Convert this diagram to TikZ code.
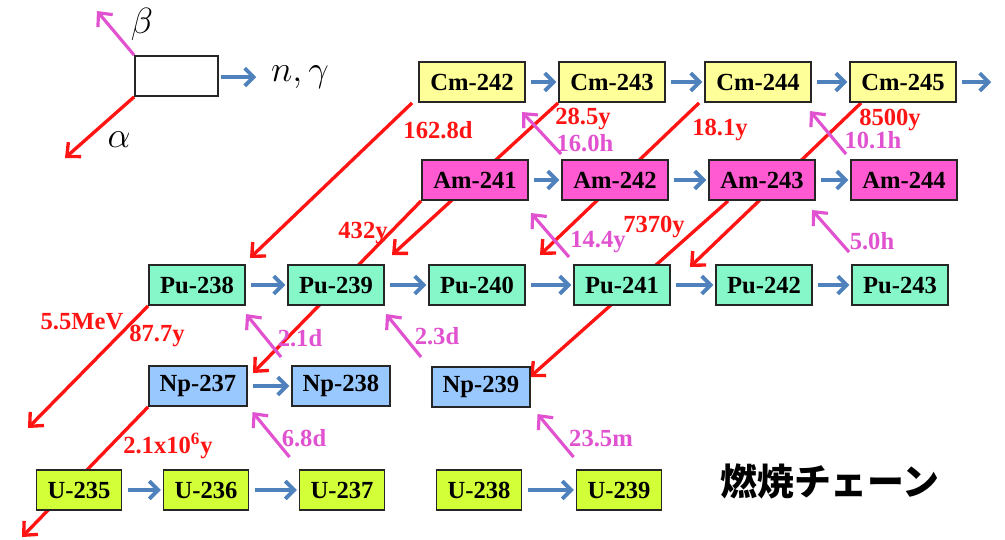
\documentclass[tikz,border=0pt]{standalone}
\usepackage{fontspec}
\setmainfont{Liberation Serif}
\newfontfamily\jpfont{Noto Sans CJK JP}
\usepackage{tikz}
\usetikzlibrary{arrows.meta,backgrounds}
\definecolor{alphared}{HTML}{FF1414}
\definecolor{betapink}{HTML}{E052CF}
\definecolor{ngblue}{HTML}{4F81BD}
\definecolor{cmfill}{HTML}{FFFF99}
\definecolor{amfill}{HTML}{FF5AD2}
\definecolor{pufill}{HTML}{86F7C8}
\definecolor{npfill}{HTML}{99C8FF}
\definecolor{ufill}{HTML}{D2FF38}
\tikzset{
  nuc/.style={draw=black!85,line width=1.1pt,inner sep=0pt,minimum height=0.8cm,
    font=\fontsize{14}{14}\selectfont\bfseries},
  capt/.style={ngblue,line width=2.2pt,shorten <=3pt,shorten >=1pt,
    -{Straight Barb[length=5pt,width=10pt]}},
  adecay/.style={alphared,line width=1.9pt,-{Straight Barb[length=6pt,width=11pt]}},
  aline/.style={alphared,line width=1.9pt},
  bdecay/.style={betapink,line width=1.8pt,-{Straight Barb[length=6pt,width=11pt]}},
  hl/.style={inner sep=1pt,font=\fontsize{14}{14}\selectfont\bfseries}
}

\begin{document}
\begin{tikzpicture}[x=0.02cm,y=-0.02cm]
  \useasboundingbox (0,0) rectangle (1005,539);
  % Legend
  \node[draw=black!85,line width=1pt,minimum width=1.66cm,minimum height=0.8cm]
    (legbox) at (176.5,76) {};
  \coordinate (betatip) at (97,11);
  \coordinate (alphatip) at (65,158);
  \coordinate (ngtip) at (258,77);
  \draw[bdecay] (legbox.north west) -- (betatip);
  \draw[adecay] (legbox.south west) -- (alphatip);
  \draw[capt,shorten <=1pt] (legbox.east) ++(0,1) -- (ngtip);
  \node[font=\fontsize{21}{21}\selectfont] (betalbl) at (142,24) {$\beta$};
  \node[font=\fontsize{21}{21}\selectfont] (alphalbl) at (119,140) {$\alpha$};
  \node[font=\fontsize{21}{21}\selectfont] (nglbl) at (300,77) {$n,\gamma$};
  % Nuclide boxes
  \foreach \nm/\lbl/\xx/\yy/\ww/\fc in {
    cm242/Cm-242/472/82/2.12/cmfill, cm243/Cm-243/612/82/2.12/cmfill,
    cm244/Cm-244/758/82/2.12/cmfill, cm245/Cm-245/903/82/2.12/cmfill,
    am241/Am-241/475/180/2.12/amfill, am242/Am-242/615/180/2.12/amfill,
    am243/Am-243/762/180/2.12/amfill, am244/Am-244/904/180/2.12/amfill,
    pu238/Pu-238/197/285/1.92/pufill, pu239/Pu-239/336/285/1.92/pufill,
    pu240/Pu-240/477/285/1.92/pufill, pu241/Pu-241/622/285/1.92/pufill,
    pu242/Pu-242/764/285/1.92/pufill, pu243/Pu-243/900/285/1.92/pufill,
    np237/Np-237/198/386/1.96/npfill, np238/Np-238/341/386/1.96/npfill,
    np239/Np-239/481/387/1.96/npfill,
    u235/U-235/79/490/1.7/ufill, u236/U-236/206/490/1.7/ufill,
    u237/U-237/342/490/1.7/ufill, u238/U-238/479/490/1.7/ufill,
    u239/U-239/619/490/1.7/ufill%
  }{
    \node[nuc,fill=\fc,minimum width=\ww cm] (\nm) at (\xx,\yy) {\lbl};
  }
  % Neutron capture
  \coordinate (cmout) at (993,82);
  \foreach \a/\b in {cm242/cm243,cm243/cm244,cm244/cm245,cm245/cmout,
    am241/am242,am242/am243,am243/am244,
    pu238/pu239,pu239/pu240,pu240/pu241,pu241/pu242,pu242/pu243,
    np237/np238,u235/u236,u236/u237,u238/u239}
    \draw[capt] (\a) -- (\b);
  % Alpha decay (behind the boxes)
  \coordinate (a238) at (250,258);
  \coordinate (a239) at (392,255);
  \coordinate (a240) at (540,255);
  \coordinate (a241) at (690,267);
  \coordinate (a237) at (253,373);
  \coordinate (a239np) at (530,377);
  \coordinate (a234) at (28,428);
  \coordinate (a233) at (22,537);
  \begin{scope}[on background layer]
    \draw[adecay] ([xshift=-0.12cm]cm242.south west) -- (a238);
    \draw[adecay] (cm243.south west) -- (a239);
    \draw[adecay] ([xshift=-0.1cm]cm244.south west) -- (a240);
    \draw[adecay] ([xshift=0.24cm]cm245.south west) -- (a241);
    \draw[adecay] (am241.south west) -- (a237);
    \draw[adecay] ([xshift=0.4cm]am243.south west) -- (a239np);
    \draw[adecay] (pu238.south west) -- (a234);
    \draw[adecay] (np237.south west) -- (a233);
  \end{scope}
  % Beta decay
  \draw[bdecay] ([shift={(0,-5)}]am242.north west) -- ++(-39,-42);
  \draw[bdecay] ([shift={(-4,-5)}]am244.north west) -- ++(-36,-43);
  \draw[bdecay] ([shift={(-4,-7)}]pu241.north west) -- ++(-38,-44);
  \draw[bdecay] ([shift={(-2,-12)}]pu243.north west) -- ++(-37,-42);
  \draw[bdecay] ([shift={(-10,-8)}]np238.north west) -- ++(-35,-43);
  \draw[bdecay] ([shift={(-10,-9)}]np239.north west) -- ++(-35,-43);
  \draw[bdecay] ([shift={(-9,-12)}]u237.north west) -- ++(-37,-45);
  \draw[bdecay] ([shift={(-2,-12)}]u239.north west) -- ++(-36,-43);
  % Half-lives
  \node[hl,alphared] (t1628) at (438,130) {162.8d};
  \node[hl,alphared] (t285) at (583,119) {28.5y};
  \node[hl,alphared] (t181) at (720,130) {18.1y};
  \node[hl,alphared] (t8500) at (890,120) {8500y};
  \node[hl,alphared] (t432) at (363,233) {432y};
  \node[hl,alphared] (t7370) at (654,227) {7370y};
  \node[hl,alphared] (tmev) at (82,322) {5.5MeV};
  \node[hl,alphared] (t877) at (157,336) {87.7y};
  \node[hl,alphared] (t21e6) at (168,446) {2.1x10\textsuperscript{6}y};
  \node[hl,betapink] (t160) at (585,143) {16.0h};
  \node[hl,betapink] (t101) at (873,140) {10.1h};
  \node[hl,betapink] (t144) at (598,242) {14.4y};
  \node[hl,betapink] (t50) at (872,241) {5.0h};
  \node[hl,betapink] (t21) at (300,338) {2.1d};
  \node[hl,betapink] (t23) at (437,336) {2.3d};
  \node[hl,betapink] (t68) at (304,438) {6.8d};
  \node[hl,betapink] (t235) at (601,439) {23.5m};
  % Title
  \node[font={\jpfont\bfseries\fontsize{21}{21}\selectfont}] (chain) at (830,481)
    {燃焼チェーン};
\end{tikzpicture}
\end{document}
